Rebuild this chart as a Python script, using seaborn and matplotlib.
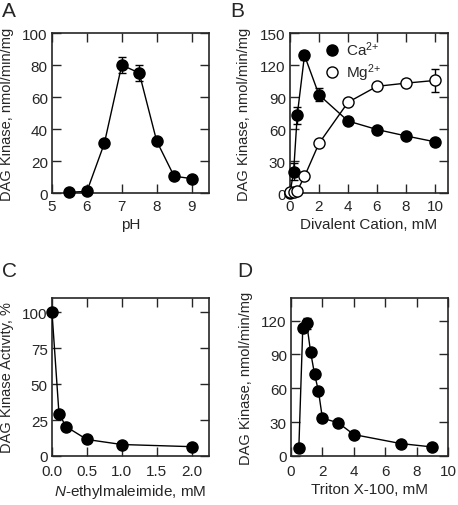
import numpy as np
import pandas as pd
import seaborn as sns
import matplotlib
matplotlib.use("Agg")
import matplotlib.pyplot as plt
from matplotlib.lines import Line2D

# ---------------- data ----------------
ph = [5.5, 6.0, 6.5, 7.0, 7.5, 8.0, 8.5, 9.0]
ph_act = [0.5, 1.0, 31, 80, 75, 32.5, 10.5, 9]
ph_err = [0, 3, 0, 5, 5, 0, 0, 0]

ca_x = [0, 0.25, 0.5, 1, 2, 4, 6, 8, 10]
ca_y = [0, 20, 73, 129, 92, 67.5, 59.5, 53.5, 48]
ca_err = [0, 8, 8, 4, 6, 0, 0, 0, 0]

mg_x = [0, 0.25, 0.5, 1, 2, 4, 6, 8, 10]
mg_y = [0.5, 0.5, 2, 15.5, 46.5, 85, 100, 103, 105.5]
mg_err = [0, 0, 0, 0, 0, 0, 0, 4, 11]

nem_x = [0.0, 0.1, 0.2, 0.5, 1.0, 2.0]
nem_y = [100, 29.5, 20.5, 11.5, 8, 6.5]

tri_x = [0.5, 0.75, 1.0, 1.25, 1.5, 1.75, 2.0, 3.0, 4.0, 7.0, 9.0]
tri_y = [7.5, 113.5, 117.5, 92, 72.5, 57.5, 33.5, 29.5, 19, 11, 8]
tri_err = [0, 0, 5, 0, 0, 0, 0, 0, 0, 0, 0]

sns.set_style("ticks")
plt.rcParams['font.family'] = ['Liberation Sans', 'DejaVu Sans']
plt.rcParams['mathtext.fontset'] = 'custom'
plt.rcParams['mathtext.rm'] = 'Liberation Sans'
plt.rcParams['mathtext.it'] = 'Liberation Sans:italic'
plt.rcParams['axes.linewidth'] = 1.2

FS = 11
YFS = 10.5
W, H = 458, 506
fig = plt.figure(figsize=(W / 100, H / 100), dpi=100)


def box(l, t, r, b):
    return [l / W, 1 - b / H, (r - l) / W, (b - t) / H]


axA = fig.add_axes(box(52, 34, 209, 194))
axB = fig.add_axes(box(290, 34, 448, 194))
axC = fig.add_axes(box(52, 299, 209, 457))
axD = fig.add_axes(box(291, 299, 448, 457))

MS = 8.0


def series(ax, x, y, err=None, filled=True, z=3):
    df = pd.DataFrame({"x": x, "y": y})
    sns.lineplot(data=df, x="x", y="y", ax=ax, color="black", lw=1.0,
                 marker=None, sort=False, zorder=z)
    if err is not None:
        ax.errorbar(x, y, yerr=err, fmt="none", ecolor="black",
                    elinewidth=1.0, capsize=3, capthick=1.0, zorder=z)
    sns.scatterplot(data=df, x="x", y="y", ax=ax, s=MS ** 2,
                    color="black" if filled else "white",
                    edgecolor="black", linewidth=1.0, zorder=z + 1,
                    clip_on=False)


def style(ax, xlim, ylim, xticks, yticks, xlabel, ylabel, xtl=None, xpad=4):
    ax.set_xlim(*xlim)
    ax.set_ylim(*ylim)
    ax.set_xticks(xticks)
    ax.set_yticks(yticks)
    if xtl is not None:
        ax.set_xticklabels(xtl)
    ax.tick_params(direction="in", length=6.5, width=1.0, top=True,
                   right=True, labelsize=FS, pad=3)
    ax.tick_params(axis="x", pad=xpad)
    ax.set_xlabel(xlabel, fontsize=FS, labelpad=3)
    ax.set_ylabel(ylabel, fontsize=YFS)
    ax.yaxis.set_label_coords(-0.245, 0.5)
    for s in ax.spines.values():
        s.set_visible(True)
        s.set_linewidth(1.2)


# A
series(axA, ph, ph_act, ph_err)
style(axA, (5, 9.5), (0, 100), [5, 6, 7, 8, 9], [0, 20, 40, 60, 80, 100],
      "pH", "DAG Kinase, nmol/min/mg")

# B
series(axB, ca_x, ca_y, ca_err, filled=True, z=3)
series(axB, mg_x, mg_y, mg_err, filled=False, z=5)
style(axB, (0, 10.9), (0, 150), [0, 2, 4, 6, 8, 10], [0, 30, 60, 90, 120, 150],
      "Divalent Cation, mM", "DAG Kinase, nmol/min/mg")
handles = [Line2D([], [], ls="none", marker="o", ms=MS, mfc="black",
                  mec="black"),
           Line2D([], [], ls="none", marker="o", ms=MS, mfc="white",
                  mec="black")]
axB.legend(handles, ["Ca$^{2{+}}$", "Mg$^{2{+}}$"], loc="upper left",
           bbox_to_anchor=(0.15, 1.015), frameon=False, fontsize=FS,
           handletextpad=0.3, labelspacing=0.2, borderaxespad=0.2,
           handlelength=1.2)

# C
series(axC, nem_x, nem_y)
style(axC, (0, 2.25), (0, 110), [0, 0.5, 1.0, 1.5, 2.0], [0, 25, 50, 75, 100],
      "$\\mathit{N}$-ethylmaleimide, mM", "DAG Kinase Activity, %",
      xtl=["0.0", "0.5", "1.0", "1.5", "2.0"], xpad=6)

# D
series(axD, tri_x, tri_y, tri_err)
style(axD, (0, 10), (0, 140), [0, 2, 4, 6, 8, 10], [0, 30, 60, 90, 120],
      "Triton X-100, mM", "DAG Kinase, nmol/min/mg", xpad=6)

for lab, x, y in [("A", 2, 2), ("B", 230, 2), ("C", 2, 262), ("D", 237, 262)]:
    fig.text(x / W, 1 - y / H, lab, fontsize=15, va="top", ha="left")

fig.savefig("out.png", dpi=100)
